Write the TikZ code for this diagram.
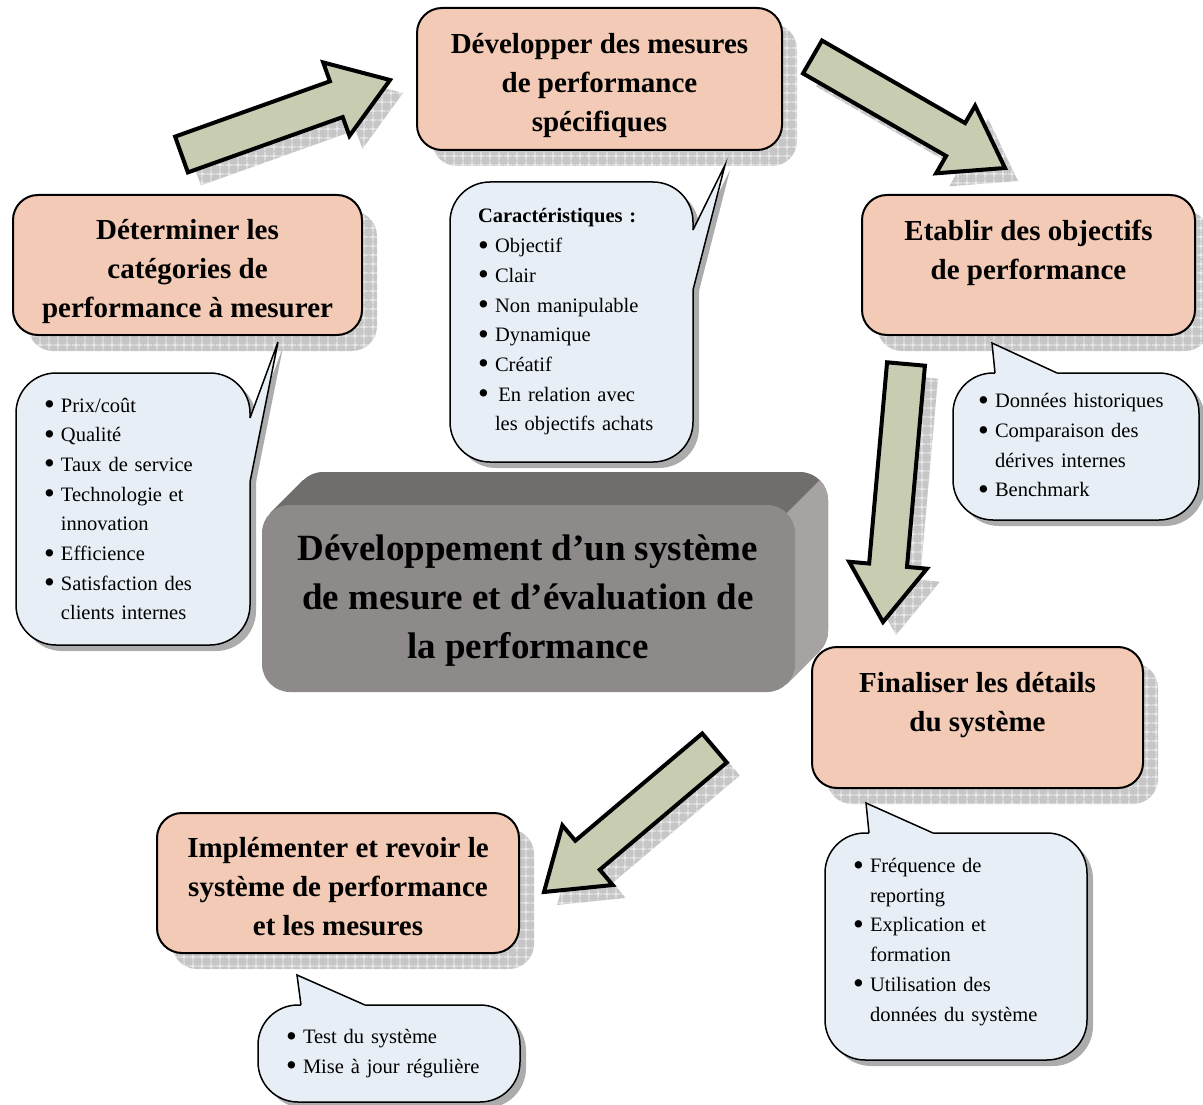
\documentclass[tikz,border=0pt]{standalone}
\usepackage{fontspec}
\setmainfont{Liberation Serif}
\usetikzlibrary{calc,patterns.meta}

\definecolor{peach}{RGB}{242,202,181}
\definecolor{bubblefill}{RGB}{232,238,246}
\definecolor{sage}{RGB}{200,205,178}
\definecolor{slabfront}{RGB}{142,138,137}
\definecolor{slabtop}{RGB}{112,110,108}
\definecolor{slabside}{RGB}{167,163,162}

\tikzdeclarepattern{
  name=shadowgrid,
  type=uncolored,
  bounding box={(0pt,0pt) and (9pt,9pt)},
  tile size={(9pt,9pt)},
  code={\draw[line width=0.8pt] (0pt,4.5pt) -- (9pt,4.5pt) (4.5pt,0pt) -- (4.5pt,9pt);}
}

\newcommand{\bul}{\makebox[17pt][l]{\raisebox{-2.5pt}{\scalebox{1.5}{\textbullet}}}}
\newcommand{\ind}{\hspace*{17pt}}
\newcommand{\arrowpath}[2]{($(#1)!19pt!90:(#2)$) -- ($(hb)!19pt!-90:(#1)$) -- ($(hb)!39pt!-90:(#1)$) -- (#2) -- ($(hb)!39pt!90:(#1)$) -- ($(hb)!19pt!90:(#1)$) -- ($(#1)!19pt!-90:(#2)$) -- cycle}
\newcommand{\blockarrow}[2]{%
  \coordinate (hb) at ($(#2)!57pt!(#1)$);
  \fill[arrowshadow] \arrowpath{#1}{#2};
  \draw[arrowbody] \arrowpath{#1}{#2};
}
\newcommand{\taillist}{693/230/725/165/693/290/-4/0, 250/418/278/342/250/482/-4/0, 995/373/992/343/1057/373/0/4, 869/833/866/803/933/833/0/4, 301/1005/297/975/365/1005/0/4}

\begin{document}
\begin{tikzpicture}[x=1pt, y=-1pt,
    titlebox/.style={draw, line width=2pt, fill=peach, rounded corners=25pt, inner sep=0pt, align=center,
      text height=111pt, text depth=6pt,
      font=\fontsize{29pt}{39pt}\selectfont\bfseries,
      preaction={draw=none, fill=gray!45, transform canvas={shift={(15pt,-16pt)}}},
      preaction={draw=none, pattern=shadowgrid, pattern color=white, transform canvas={shift={(15pt,-16pt)}}}},
    twolines/.style={text height=34pt, text depth=6pt},
    callout/.style={draw, line width=1.5pt, fill=bubblefill, rounded corners=40pt, inner sep=0pt, align=left,
      font=\fontsize{20.5pt}{29.7pt}\selectfont,
      preaction={draw=none, fill=gray!65, transform canvas={shift={(6pt,-6pt)}}}},
    tailshadow/.style={fill=gray!65, transform canvas={shift={(5pt,-5pt)}}},
    arrowbody/.style={draw, line width=4pt, fill=sage, line join=miter},
    arrowshadow/.style={fill=gray!45, postaction={pattern=shadowgrid, pattern color=white}, transform canvas={shift={(13pt,-13pt)}}}]
  \useasboundingbox (0,0) rectangle (1203,1105);

  \node[titlebox, minimum width=349pt, minimum height=140pt] (categories) at (187.5,265) {Déterminer les\\catégories de\\performance à mesurer};
  \node[titlebox, minimum width=365pt, minimum height=142pt] (measures) at (599.5,79) {Développer des mesures\\de performance\\spécifiques};
  \node[titlebox, twolines, minimum width=333pt, minimum height=140pt] (targets) at (1028.5,265) {Etablir des objectifs\\de performance};
  \node[titlebox, twolines, minimum width=331pt, minimum height=141pt] (details) at (977.5,717.5) {Finaliser les détails\\du système};
  \node[titlebox, minimum width=362pt, minimum height=140pt] (rollout) at (338,883) {Implémenter et revoir le\\système de performance\\et les mesures};

  \fill[slabtop] (270,513) -- (303,480) -- (820,480) -- (787,513) -- cycle;
  \fill[slabtop, rounded corners=28pt] (295,472) rectangle (828,659);
  \begin{scope}
    \clip (787,513) -- (840,460) -- (900,460) -- (900,720) -- (787,720) -- cycle;
    \fill[slabside, rounded corners=28pt] (295,472) rectangle (828,659);
    \fill[slabside] (787,684) -- (820,651) -- (820,480) -- (787,513) -- cycle;
  \end{scope}
  \fill[slabfront, rounded corners=28pt] (262,505) rectangle (795,692);
  \node[align=center, font=\fontsize{37pt}{49pt}\selectfont\bfseries] (system) at (528,601)
    {Développement d’un système\\de mesure et d’évaluation de\\la performance};

  \coordinate (a1s) at (181.5,154.5);
  \coordinate (a1e) at (390,80);
  \coordinate (a2s) at (812.5,57);
  \coordinate (a2e) at (1005,168);
  \coordinate (a3s) at (906,364);
  \coordinate (a3e) at (883,622);
  \coordinate (a4s) at (714.5,748);
  \coordinate (a4e) at (544,892);
  \foreach \s/\e in {a1s/a1e, a2s/a2e, a3s/a3e, a4s/a4e}
    \blockarrow{\s}{\e};

  \foreach \ax/\ay/\tx/\ty/\bx/\by/\dx/\dy in \taillist
    \fill[tailshadow] (\ax,\ay) -- (\tx,\ty) -- (\bx,\by) -- cycle;

  \node[callout, minimum width=243pt, minimum height=280pt, text width=187pt] (traits) at (571.5,322)
    {\textbf{Caractéristiques :}\\ \bul Objectif\\ \bul Clair\\ \bul Non manipulable\\ \bul Dynamique\\ \bul Créatif\\ \bul\,En relation avec\\ \ind les objectifs achats};
  \node[callout, minimum width=234pt, minimum height=272pt, text width=178pt] (criteria) at (133,509)
    {\bul Prix/coût\\ \bul Qualité\\ \bul Taux de service\\ \bul Technologie et\\ \ind innovation\\ \bul Efficience\\ \bul Satisfaction des\\ \ind clients internes};
  \node[callout, minimum width=246pt, minimum height=147pt, text width=196pt] (sources) at (1076,446.5)
    {\bul Données historiques\\ \bul Comparaison des\\ \ind dérives internes\\ \bul Benchmark};
  \node[callout, minimum width=262pt, minimum height=227pt, text width=206pt, text height=15pt, text depth=163pt] (settings) at (956,946.5)
    {\bul Fréquence de\\ \ind reporting\\ \bul Explication et\\ \ind formation\\ \bul Utilisation des\\ \ind données du système};
  \node[callout, minimum width=262pt, minimum height=97pt, text width=206pt] (review) at (389,1053.5)
    {\bul Test du système\\ \bul Mise à jour régulière};

  \foreach \ax/\ay/\tx/\ty/\bx/\by/\dx/\dy in \taillist {
    \fill[bubblefill] (\ax+\dx,\ay+\dy) -- (\ax,\ay) -- (\tx,\ty) -- (\bx,\by) -- (\bx+\dx,\by+\dy) -- cycle;
    \draw[line width=1.5pt] (\ax,\ay) -- (\tx,\ty) -- (\bx,\by);
  }
\end{tikzpicture}
\end{document}
